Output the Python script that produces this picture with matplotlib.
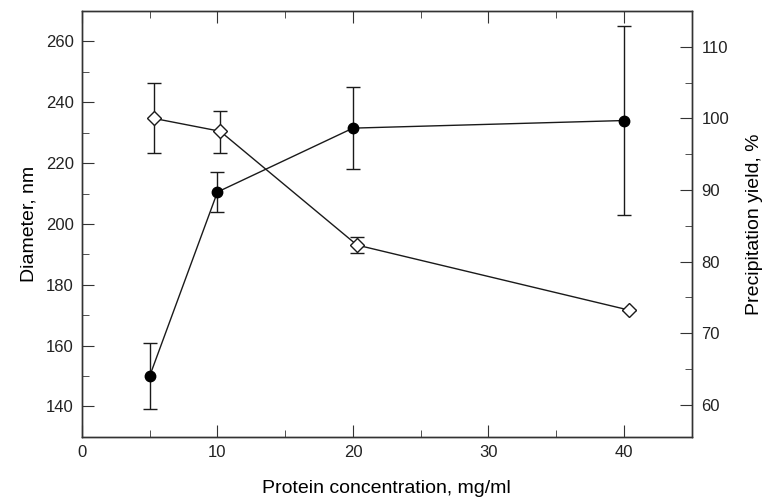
import matplotlib.pyplot as plt
import matplotlib.ticker as mticker

plt.rcParams['font.family'] = ['Liberation Sans', 'DejaVu Sans']
plt.rcParams['font.size'] = 12

# diameter (left axis), filled circles
conc_d = [5, 10, 20, 40]
diam = [150, 210.5, 231.5, 234]
diam_err = [11, 6.5, 13.5, 31]

# precipitation yield (right axis), open diamonds
conc_y = [5.3, 10.2, 20.3, 40.4]
yld = [100, 98.2, 82.3, 73.2]
yld_err_lo = [4.8, 3.0, 1.1, 0]
yld_err_hi = [4.9, 2.9, 1.1, 0]

fig, ax = plt.subplots(figsize=(7.66, 5.01), dpi=100)
fig.subplots_adjust(left=0.107, right=0.903, top=0.978, bottom=0.128)

ax.errorbar(conc_d, diam, yerr=diam_err, color='#1a1a1a', lw=1.0,
            marker='o', ms=7.5, mfc='black', mec='black',
            capsize=5, capthick=1.0, elinewidth=1.0, zorder=3)
ax.set_xlim(0, 45)
ax.set_ylim(130, 270)
ax.set_xlabel('Protein concentration, mg/ml', fontsize=14, labelpad=14)
ax.set_ylabel('Diameter, nm', fontsize=14, labelpad=6)
ax.xaxis.set_major_locator(mticker.MultipleLocator(10))
ax.xaxis.set_minor_locator(mticker.MultipleLocator(5))
ax.yaxis.set_major_locator(mticker.MultipleLocator(20))
ax.yaxis.set_minor_locator(mticker.MultipleLocator(10))
ax.tick_params(which='both', direction='in', top=True, right=False,
               colors='#333333', labelcolor='#222222')
ax.tick_params(which='major', length=8.5, pad=6)
ax.tick_params(which='minor', length=5)

ax2 = ax.twinx()
ax2.errorbar(conc_y, yld, yerr=[yld_err_lo, yld_err_hi], color='#1a1a1a',
             lw=1.0, marker='D', ms=7, mfc='white', mec='#1a1a1a', mew=1.0,
             capsize=5, capthick=1.0, elinewidth=1.0, zorder=3)
ax2.set_ylim(55.5, 115)
ax2.set_ylabel('Precipitation yield, %', fontsize=14, labelpad=12)
ax2.yaxis.set_major_locator(mticker.MultipleLocator(10))
ax2.yaxis.set_minor_locator(mticker.MultipleLocator(5))
ax2.tick_params(which='both', direction='in', colors='#333333',
                labelcolor='#222222')
ax2.tick_params(which='major', length=8.5, pad=7)
ax2.tick_params(which='minor', length=5)

for a in (ax, ax2):
    for s in a.spines.values():
        s.set_linewidth(1.0)
        s.set_color('#333333')

plt.savefig('out.png', dpi=100)
